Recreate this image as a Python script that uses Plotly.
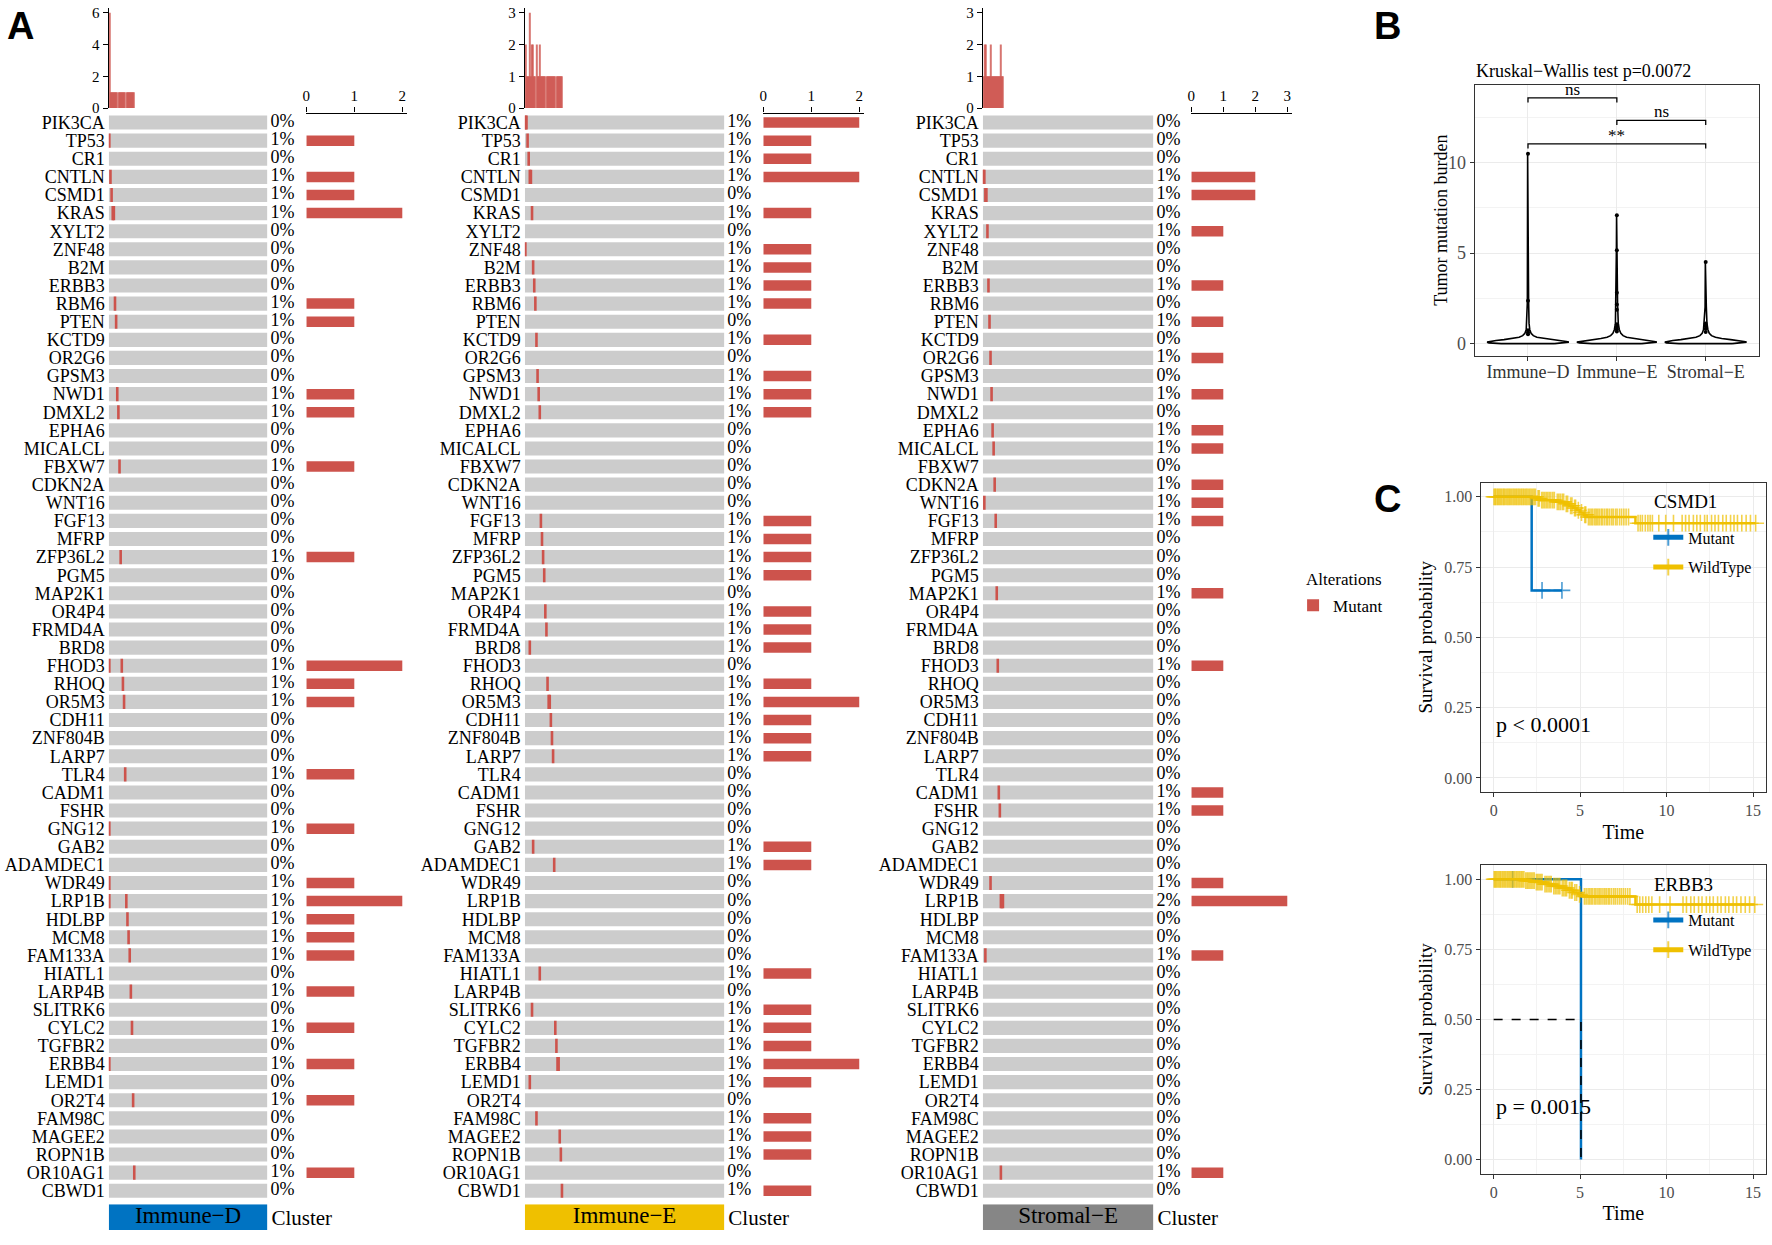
import plotly.graph_objects as go

W, H = 1772, 1245
SERIF = "Liberation Serif"
RED = "#CD534C"
CELL_GRAY = "#CCCCCC"
JCO_BLUE = "#0073C2"
JCO_GOLD = "#EFC000"
JCO_GRAY = "#868686"

# ── Panel A data: oncoplots per cluster ──────────────────────────────────────
GENES = [
    "PIK3CA", "TP53", "CR1", "CNTLN", "CSMD1", "KRAS", "XYLT2", "ZNF48", "B2M",
    "ERBB3", "RBM6", "PTEN", "KCTD9", "OR2G6", "GPSM3", "NWD1", "DMXL2", "EPHA6",
    "MICALCL", "FBXW7", "CDKN2A", "WNT16", "FGF13", "MFRP", "ZFP36L2", "PGM5",
    "MAP2K1", "OR4P4", "FRMD4A", "BRD8", "FHOD3", "RHOQ", "OR5M3", "CDH11",
    "ZNF804B", "LARP7", "TLR4", "CADM1", "FSHR", "GNG12", "GAB2", "ADAMDEC1",
    "WDR49", "LRP1B", "HDLBP", "MCM8", "FAM133A", "HIATL1", "LARP4B", "SLITRK6",
    "CYLC2", "TGFBR2", "ERBB4", "LEMD1", "OR2T4", "FAM98C", "MAGEE2", "ROPN1B",
    "OR10AG1", "CBWD1",
]
CLUSTERS = ["Immune−D", "Immune−E", "Stromal−E"]
CLUSTER_COLORS = [JCO_BLUE, JCO_GOLD, JCO_GRAY]
N_SAMPLES = [140, 180, 165]

# mutated sample columns (0-based, waterfall order) per gene
MUT_IMMUNE_D = {
    "TP53": [0], "CNTLN": [1], "CSMD1": [2], "KRAS": [3, 4], "RBM6": [5],
    "PTEN": [6], "NWD1": [7], "DMXL2": [8], "FBXW7": [9], "ZFP36L2": [10],
    "FHOD3": [0, 11], "RHOQ": [12], "OR5M3": [13], "TLR4": [14], "GNG12": [0],
    "WDR49": [0], "LRP1B": [0, 15], "HDLBP": [16], "MCM8": [17], "FAM133A": [18],
    "LARP4B": [19], "CYLC2": [20], "ERBB4": [0], "OR2T4": [21], "OR10AG1": [22],
}
MUT_IMMUNE_E = {
    "PIK3CA": [0, 1], "TP53": [2], "CR1": [3], "CNTLN": [4, 5], "KRAS": [6],
    "ZNF48": [0], "B2M": [7], "ERBB3": [8], "RBM6": [9], "KCTD9": [10],
    "GPSM3": [11], "NWD1": [12], "DMXL2": [13], "FGF13": [14], "MFRP": [15],
    "ZFP36L2": [16], "PGM5": [17], "OR4P4": [18], "FRMD4A": [19], "BRD8": [4],
    "RHOQ": [20], "OR5M3": [21, 22], "CDH11": [23], "ZNF804B": [24],
    "LARP7": [25], "GAB2": [7], "ADAMDEC1": [26], "HIATL1": [13],
    "SLITRK6": [6], "CYLC2": [27], "TGFBR2": [28], "ERBB4": [29, 30],
    "LEMD1": [4], "FAM98C": [10], "MAGEE2": [31], "ROPN1B": [32], "CBWD1": [33],
}
MUT_STROMAL_E = {
    "CNTLN": [0, 1], "CSMD1": [2, 3], "XYLT2": [4], "ERBB3": [5], "PTEN": [6],
    "OR2G6": [7], "NWD1": [8], "EPHA6": [9], "MICALCL": [10], "CDKN2A": [11],
    "WNT16": [1], "FGF13": [12], "MAP2K1": [13], "FHOD3": [14], "CADM1": [15],
    "FSHR": [16], "WDR49": [7], "LRP1B": [17, 18, 19], "FAM133A": [2],
    "OR10AG1": [17],
}
MUTATIONS = [MUT_IMMUNE_D, MUT_IMMUNE_E, MUT_STROMAL_E]
TOP_TICKS = [[0, 2, 4, 6], [0, 1, 2, 3], [0, 1, 2, 3]]
COUNT_TICKS = [[0, 1, 2], [0, 1, 2], [0, 1, 2, 3]]

# ── Panel B data: TMB violins ────────────────────────────────────────────────
VIOLIN_Y_D = [-0.02, 0.02, 0.06, 0.1, 0.15, 0.2, 0.26, 0.33, 0.42, 0.55, 0.75, 1.1, 2.3, 10.5]
VIOLIN_W_D = [0.30, 0.44, 0.46, 0.43, 0.36, 0.27, 0.17, 0.10, 0.06, 0.035, 0.02, 0.012, 0.007, 0.004]
VIOLIN_Y_E = [-0.02, 0.02, 0.06, 0.1, 0.15, 0.2, 0.26, 0.33, 0.42, 0.55, 0.75, 1.1, 2.2, 5.2, 7.1]
VIOLIN_W_E = [0.28, 0.42, 0.45, 0.42, 0.35, 0.27, 0.18, 0.11, 0.07, 0.045, 0.028, 0.016, 0.008, 0.005, 0.003]
VIOLIN_Y_S = [-0.02, 0.02, 0.06, 0.1, 0.15, 0.2, 0.26, 0.33, 0.42, 0.55, 0.75, 1.1, 2.0, 4.5]
VIOLIN_W_S = [0.30, 0.44, 0.46, 0.43, 0.37, 0.28, 0.18, 0.11, 0.065, 0.04, 0.025, 0.014, 0.007, 0.004]
BOX_STATS = [  # lower, q1, median, q3, upper
    [0.0, 0.05, 0.10, 0.22, 0.4],
    [0.0, 0.04, 0.09, 0.2, 0.38],
    [0.0, 0.04, 0.09, 0.19, 0.33],
]
POINTS_D = [10.5, 2.35, 0.72, 0.6, 0.5]
POINTS_E = [7.1, 5.15, 2.8, 2.15, 1.85, 1.05, 0.9, 0.78, 0.65]
POINTS_S = [4.5, 1.1, 0.95, 0.8, 0.62]
BRACKETS = [(1, 2, 13.6, "ns"), (2, 3, 12.35, "ns"), (1, 3, 11.05, "**")]

# ── Panel C data: Kaplan-Meier curves ────────────────────────────────────────
CSMD1_MUT_EVENTS = [2.2]
CSMD1_MUT_SURV = [0.667]
CSMD1_MUT_CENSOR = [2.8, 3.95]
CSMD1_WT_EVENTS = [2.5, 2.7, 3.6, 4.1, 4.35, 4.6, 4.8, 5.0, 5.2, 5.4, 8.2]
CSMD1_WT_SURV = [0.994, 0.988, 0.982, 0.975, 0.968, 0.96, 0.952, 0.944, 0.936, 0.928, 0.906]
CSMD1_WT_CENSOR = [
    0.02, 0.08, 0.13, 0.21, 0.27, 0.34, 0.4, 0.47, 0.55, 0.61, 0.68, 0.76, 0.83,
    0.9, 0.97, 1.04, 1.12, 1.19, 1.27, 1.33, 1.41, 1.48, 1.56, 1.63, 1.71, 1.78,
    1.86, 1.93, 2.01, 2.09, 2.17, 2.26, 2.34, 2.42, 2.57, 2.64, 2.78, 2.86, 2.95,
    3.04, 3.13, 3.22, 3.31, 3.42, 3.51, 3.68, 3.77, 3.86, 3.97, 4.05, 4.2, 4.28,
    4.45, 4.53, 4.68, 4.74, 4.9, 5.08, 5.27, 5.33, 5.48, 5.57, 5.66, 5.74, 5.85,
    5.93, 6.02, 6.11, 6.22, 6.3, 6.41, 6.52, 6.6, 6.71, 6.83, 6.92, 7.05, 7.14,
    7.28, 7.4, 7.53, 7.66, 7.8, 8.35, 8.48, 8.6, 8.77, 8.92, 9.05, 9.18, 9.55,
    9.95, 10.4, 10.9, 11.1, 11.3, 11.55, 11.75, 11.95, 12.2, 12.35, 12.6, 12.8,
    13.0, 13.25, 13.45, 13.7, 13.9, 14.1, 14.35, 14.6, 14.85, 15.15,
]
ERBB3_MUT_EVENTS = [5.05]
ERBB3_MUT_SURV = [0.0]
ERBB3_MUT_CENSOR = [1.1]
ERBB3_WT_EVENTS = [1.8, 2.4, 2.9, 3.4, 3.9, 4.3, 4.6, 4.9, 5.15, 8.2]
ERBB3_WT_SURV = [0.995, 0.99, 0.983, 0.976, 0.969, 0.961, 0.953, 0.946, 0.939, 0.91]
ERBB3_WT_CENSOR = [
    0.03, 0.09, 0.15, 0.22, 0.29, 0.36, 0.42, 0.5, 0.57, 0.64, 0.71, 0.79, 0.86,
    0.93, 1.0, 1.07, 1.15, 1.22, 1.3, 1.37, 1.45, 1.52, 1.6, 1.67, 1.75, 1.86,
    1.94, 2.02, 2.1, 2.18, 2.27, 2.35, 2.47, 2.55, 2.63, 2.72, 2.8, 2.97, 3.06,
    3.15, 3.25, 3.33, 3.48, 3.57, 3.66, 3.75, 3.83, 3.97, 4.06, 4.15, 4.22, 4.38,
    4.48, 4.55, 4.7, 4.8, 4.97, 5.25, 5.35, 5.46, 5.55, 5.64, 5.73, 5.84, 5.92,
    6.03, 6.12, 6.21, 6.32, 6.42, 6.51, 6.62, 6.7, 6.81, 6.93, 7.03, 7.15, 7.27,
    7.38, 7.5, 7.62, 7.75, 7.88, 8.3, 8.45, 8.62, 8.8, 8.97, 9.15, 9.6, 10.2,
    10.95, 11.15, 11.4, 11.6, 11.85, 12.05, 12.3, 12.5, 12.7, 12.95, 13.15, 13.4,
    13.6, 13.85, 14.05, 14.3, 14.55, 14.8, 15.1,
]

# ── Layout geometry (pixels in the 1772x1245 canvas) ─────────────────────────
GRID_X = [(105, 264), (522, 722), (981, 1152)]
PCT_X = [(267, 300), (725, 758), (1155, 1187)]
COUNT_X = [(303, 404), (761, 862), (1190, 1291)]
ROW_TOP, ROW_BOT = 111.5, 1207.5
TOP_Y = (5, 106)
CLUS_Y = (1212, 1238)
MARK_PX = 2.6


def xr(i):
    return "x" if i == 1 else f"x{i}"


def yr(i):
    return "y" if i == 1 else f"y{i}"


def xk(i):
    return "xaxis" if i == 1 else f"xaxis{i}"


def yk(i):
    return "yaxis" if i == 1 else f"yaxis{i}"


def dom_x(a, b):
    return [a / W, b / W]


def dom_y(top, bottom):
    return [1 - bottom / H, 1 - top / H]


def paper_text(text, x, y, size, xanchor="left", yanchor="middle", angle=0, **font):
    return dict(x=x / W, y=1 - y / H, xref="paper", yref="paper", text=text,
                showarrow=False, xanchor=xanchor, yanchor=yanchor, textangle=angle,
                font=dict(size=size, color="black", **font))


fig = go.Figure()
lay = {}
annotations = []
rows = list(range(len(GENES)))

# ── Panel A ──────────────────────────────────────────────────────────────────
for k, (name, color, n, muts) in enumerate(zip(CLUSTERS, CLUSTER_COLORS, N_SAMPLES, MUTATIONS)):
    gx, pctx, cntx = 3 * k + 1, 3 * k + 2, 3 * k + 3
    ty, gy, cy = 3 * k + 1, 3 * k + 2, 3 * k + 3
    g0, g1 = GRID_X[k]
    mark_w = MARK_PX / ((g1 - g0) / n)

    counts = [len(muts.get(g, [])) for g in GENES]
    pcts = [f"{round(100 * c / n)}%" for c in counts]
    tmb = {}
    mark_rows, mark_base = [], []
    for gene, samples in muts.items():
        for s in samples:
            tmb[s] = tmb.get(s, 0) + 1
            mark_rows.append(GENES.index(gene))
            mark_base.append(s - mark_w / 2)
    tmb_x = sorted(tmb)

    # background cells
    fig.add_trace(go.Bar(
        orientation="h", y=rows, x=[n] * len(rows), base=[-0.5] * len(rows),
        width=0.78, marker=dict(color=CELL_GRAY, line_width=0),
        xaxis=xr(gx), yaxis=yr(gy), showlegend=False, hoverinfo="skip",
    ))
    # mutation marks
    fig.add_trace(go.Bar(
        orientation="h", y=mark_rows, x=[mark_w] * len(mark_rows), base=mark_base,
        width=0.78, marker=dict(color=RED, line_width=0), name="Mutant",
        xaxis=xr(gx), yaxis=yr(gy), showlegend=(k == 0), legend="legend",
    ))
    # top TMB bars
    fig.add_trace(go.Bar(
        x=tmb_x, y=[tmb[s] for s in tmb_x], width=1,
        marker=dict(color=RED, line_width=0, opacity=0.8),
        xaxis=xr(gx), yaxis=yr(ty), showlegend=False,
    ))
    # percentages
    fig.add_trace(go.Scatter(
        x=[0] * len(rows), y=rows, mode="text", text=pcts,
        textposition="middle right", textfont=dict(size=18, color="black"),
        xaxis=xr(pctx), yaxis=yr(gy), showlegend=False, cliponaxis=False,
    ))
    # right count bars
    fig.add_trace(go.Bar(
        orientation="h", y=rows, x=counts, width=0.58,
        marker=dict(color=RED, line_width=0),
        xaxis=xr(cntx), yaxis=yr(gy), showlegend=False,
    ))
    # cluster annotation bar
    fig.add_trace(go.Bar(
        orientation="h", y=[0], x=[n], base=[-0.5], width=1,
        marker=dict(color=color, line_width=0),
        xaxis=xr(gx), yaxis=yr(cy), showlegend=False,
    ))
    fig.add_trace(go.Scatter(
        x=[(n - 1) / 2], y=[0], mode="text", text=[name],
        textfont=dict(size=23, color="black"),
        xaxis=xr(gx), yaxis=yr(cy), showlegend=False,
    ))

    lay[xk(gx)] = dict(domain=dom_x(g0, g1), range=[-0.5, n - 0.5],
                       anchor=yr(gy), visible=False)
    lay[yk(gy)] = dict(domain=dom_y(ROW_TOP, ROW_BOT), range=[len(GENES) - 0.5, -0.5],
                       anchor=xr(gx), tickmode="array", tickvals=rows, ticktext=GENES,
                       ticks="", showgrid=False, zeroline=False, showline=False,
                       tickfont=dict(size=18, color="black"), ticklabelstandoff=3)
    lay[yk(ty)] = dict(domain=dom_y(*TOP_Y), range=[0, TOP_TICKS[k][-1] * 1.05],
                       anchor=xr(gx), tickmode="array", tickvals=TOP_TICKS[k],
                       ticks="outside", ticklen=5, tickwidth=1.3, tickcolor="black",
                       showline=True, linewidth=1.3, linecolor="black",
                       showgrid=False, zeroline=False, tickfont=dict(size=15))
    lay[yk(cy)] = dict(domain=dom_y(*CLUS_Y), range=[-0.5, 0.5], anchor=xr(gx),
                       side="right", tickmode="array", tickvals=[0], ticktext=["Cluster"],
                       ticks="", showgrid=False, zeroline=False,
                       tickfont=dict(size=21, color="black"), ticklabelstandoff=3)
    lay[xk(pctx)] = dict(domain=dom_x(*PCT_X[k]), range=[0, 1], anchor=yr(gy), visible=False)
    lay[xk(cntx)] = dict(domain=dom_x(*COUNT_X[k]), range=[0, COUNT_TICKS[k][-1] * 1.05],
                         anchor=yr(gy), side="top", tickmode="array",
                         tickvals=COUNT_TICKS[k], ticks="outside", ticklen=5,
                         tickwidth=1.3, tickcolor="black", showline=True,
                         linewidth=1.3, linecolor="black", showgrid=False,
                         zeroline=False, tickfont=dict(size=15))

annotations.append(paper_text("Alterations", 1303, 582, 17))

# ── Panel B: violins ─────────────────────────────────────────────────────────
BX, BY = 10, 10
violins = [(VIOLIN_Y_D, VIOLIN_W_D, POINTS_D), (VIOLIN_Y_E, VIOLIN_W_E, POINTS_E),
           (VIOLIN_Y_S, VIOLIN_W_S, POINTS_S)]
for i, (vy, vw, pts) in enumerate(violins):
    c = i + 1
    xs = [c + w for w in vw] + [c - w for w in reversed(vw)]
    ys = list(vy) + list(reversed(vy))
    fig.add_trace(go.Scatter(
        x=xs + [xs[0]], y=ys + [ys[0]], mode="lines", fill="toself",
        fillcolor="white", line=dict(color="black", width=1.6),
        xaxis=xr(BX), yaxis=yr(BY), showlegend=False, hoverinfo="skip",
    ))
    lo, q1, med, q3, hi = BOX_STATS[i]
    fig.add_trace(go.Box(
        x=[c], q1=[q1], median=[med], q3=[q3], lowerfence=[lo], upperfence=[hi],
        width=0.2, fillcolor="#444444", line=dict(color="black", width=1.3),
        boxpoints=False, xaxis=xr(BX), yaxis=yr(BY), showlegend=False,
    ))
    fig.add_trace(go.Scatter(
        x=[c] * len(pts), y=pts, mode="markers",
        marker=dict(color="black", size=4),
        xaxis=xr(BX), yaxis=yr(BY), showlegend=False,
    ))

for a, b, level, label in BRACKETS:
    fig.add_trace(go.Scatter(
        x=[a, a, b, b], y=[level - 0.25, level, level, level - 0.25], mode="lines",
        line=dict(color="black", width=1.3),
        xaxis=xr(BX), yaxis=yr(BY), showlegend=False, hoverinfo="skip",
    ))
    annotations.append(dict(x=(a + b) / 2, y=level, xref=xr(BX), yref=yr(BY),
                            text=label, showarrow=False, yanchor="bottom", yshift=-3,
                            font=dict(size=17, color="black")))

lay[xk(BX)] = dict(domain=dom_x(1474, 1759), range=[0.4, 3.6], anchor=yr(BY),
                   tickmode="array", tickvals=[1, 2, 3], ticktext=CLUSTERS,
                   showline=True, mirror=True, linecolor="#333333", linewidth=1.3,
                   ticks="outside", ticklen=4, tickcolor="#333333",
                   showgrid=True, gridcolor="#EBEBEB", zeroline=False,
                   tickfont=dict(size=18, color="#333333"), ticklabelstandoff=-5)
lay[yk(BY)] = dict(domain=dom_y(83, 356), range=[-0.7, 14.3], anchor=xr(BX),
                   tickmode="array", tickvals=[0, 5, 10],
                   minor=dict(tickmode="array", tickvals=[2.5, 7.5, 12.5],
                              showgrid=True, gridcolor="#F3F3F3", ticks=""),
                   showline=True, mirror=True, linecolor="#333333", linewidth=1.3,
                   ticks="outside", ticklen=4, tickcolor="#333333",
                   showgrid=True, gridcolor="#EBEBEB", zeroline=False,
                   tickfont=dict(size=18, color="#4D4D4D"))
annotations.append(paper_text("Tumor mutation burden", 1440, 219, 18,
                              xanchor="center", angle=-90))
annotations.append(paper_text("Kruskal−Wallis test p=0.0072", 1473, 69, 18))


# ── Panel C: Kaplan-Meier ────────────────────────────────────────────────────
def km_trace(events, surv, censors, color, name, ax, legend):
    pts = [(0.0, 1.0, 0)]
    pts += [(t, s, 0) for t, s in zip(events, surv)]
    for c in censors:
        s_at = 1.0
        for t, s in zip(events, surv):
            if t <= c:
                s_at = s
        pts.append((c, s_at, 1))
    pts.sort()
    return go.Scatter(
        x=[p[0] for p in pts], y=[p[1] for p in pts], mode="lines+markers",
        line=dict(color=color, width=2.5, shape="hv"),
        marker=dict(symbol="cross-thin", size=[12 if p[2] else 0 for p in pts],
                    color=color, line=dict(color=color, width=1.6)),
        name=name, legend=legend, legendgroup=name + legend,
        xaxis=xr(ax), yaxis=yr(ax),
    )


km_sets = [
    (11, "legend2", "CSMD1", CSMD1_MUT_EVENTS, CSMD1_MUT_SURV, CSMD1_MUT_CENSOR,
     CSMD1_WT_EVENTS, CSMD1_WT_SURV, CSMD1_WT_CENSOR, "p < 0.0001", (484, 796)),
    (12, "legend3", "ERBB3", ERBB3_MUT_EVENTS, ERBB3_MUT_SURV, ERBB3_MUT_CENSOR,
     ERBB3_WT_EVENTS, ERBB3_WT_SURV, ERBB3_WT_CENSOR, "p = 0.0015", (870, 1181)),
]
for ax, leg, gene, me, ms, mc, we, ws, wc, ptxt, (top, bot) in km_sets:
    fig.add_trace(km_trace(me, ms, mc, JCO_BLUE, "Mutant", ax, leg))
    fig.add_trace(km_trace(we, ws, wc, JCO_GOLD, "WildType", ax, leg))
    # median survival guide if the curve crosses 0.5
    med = next((t for t, s in zip(me, ms) if s <= 0.5), None)
    if med is not None:
        fig.add_trace(go.Scatter(
            x=[0, med, med], y=[0.5, 0.5, 0], mode="lines",
            line=dict(color="black", width=1.6, dash="dash"),
            xaxis=xr(ax), yaxis=yr(ax), showlegend=False, hoverinfo="skip",
        ))
    annotations.append(dict(x=0, y=0.19, xref=xr(ax), yref=yr(ax), text=ptxt,
                            showarrow=False, xanchor="left", yanchor="middle",
                            font=dict(size=22, color="black")))
    annotations.append(paper_text(gene, 1652, top + 19, 19))
    lay[leg] = dict(font=dict(size=16), x=1648 / W, y=1 - (top + 38) / H,
                    xanchor="left", yanchor="top", bgcolor="rgba(0,0,0,0)",
                    itemsizing="constant", tracegroupgap=6)
    lay[xk(ax)] = dict(domain=dom_x(1480, 1766), range=[-0.75, 15.75], anchor=yr(ax),
                       tickmode="array", tickvals=[0, 5, 10, 15],
                       minor=dict(tickmode="array", tickvals=[2.5, 7.5, 12.5],
                                  showgrid=True, gridcolor="#F3F3F3", ticks=""),
                       showline=True, mirror=True, linecolor="#333333", linewidth=1.3,
                       ticks="outside", ticklen=4, tickcolor="#333333",
                       showgrid=True, gridcolor="#EBEBEB", zeroline=False,
                       tickfont=dict(size=16, color="#4D4D4D"),
                       title=dict(text="Time", font=dict(size=20), standoff=6))
    lay[yk(ax)] = dict(domain=dom_y(top, bot), range=[-0.05, 1.05], anchor=xr(ax),
                       tickmode="array", tickvals=[0, 0.25, 0.5, 0.75, 1],
                       ticktext=["0.00", "0.25", "0.50", "0.75", "1.00"],
                       minor=dict(tickmode="array", tickvals=[0.125, 0.375, 0.625, 0.875],
                                  showgrid=True, gridcolor="#F3F3F3", ticks=""),
                       showline=True, mirror=True, linecolor="#333333", linewidth=1.3,
                       ticks="outside", ticklen=4, tickcolor="#333333",
                       showgrid=True, gridcolor="#EBEBEB", zeroline=False,
                       tickfont=dict(size=16, color="#4D4D4D"),
                       title=dict(text="Survival probability", font=dict(size=19), standoff=6))

# panel letters
for letter, lx, ly in [("A", 1, 0), ("B", 1371, 0), ("C", 1371, 477)]:
    annotations.append(paper_text(f"<b>{letter}</b>", lx, ly, 38, yanchor="top",
                                  family="Liberation Sans"))

fig.update_layout(
    **lay,
    width=W, height=H,
    margin=dict(l=0, r=0, t=0, b=0),
    paper_bgcolor="white", plot_bgcolor="white",
    barmode="overlay",
    font=dict(family=SERIF, color="black", size=16),
    annotations=annotations,
    legend=dict(font=dict(size=17), x=1292 / W, y=1 - 590 / H,
                xanchor="left", yanchor="top",
                bgcolor="rgba(0,0,0,0)", itemsizing="constant"),
)

# pin the fixed-size figure to the page corner so the page adds no margin or scroll
PIN_JS = (
    "document.documentElement.style.overflow='hidden';"
    "document.body.style.margin='0';"
    "var gd=document.getElementsByClassName('plotly-graph-div')[0];"
    "gd.style.position='fixed';gd.style.left='0';gd.style.top='0';"
)
fig.write_html("out.html", config={"displayModeBar": False}, post_script=PIN_JS)
